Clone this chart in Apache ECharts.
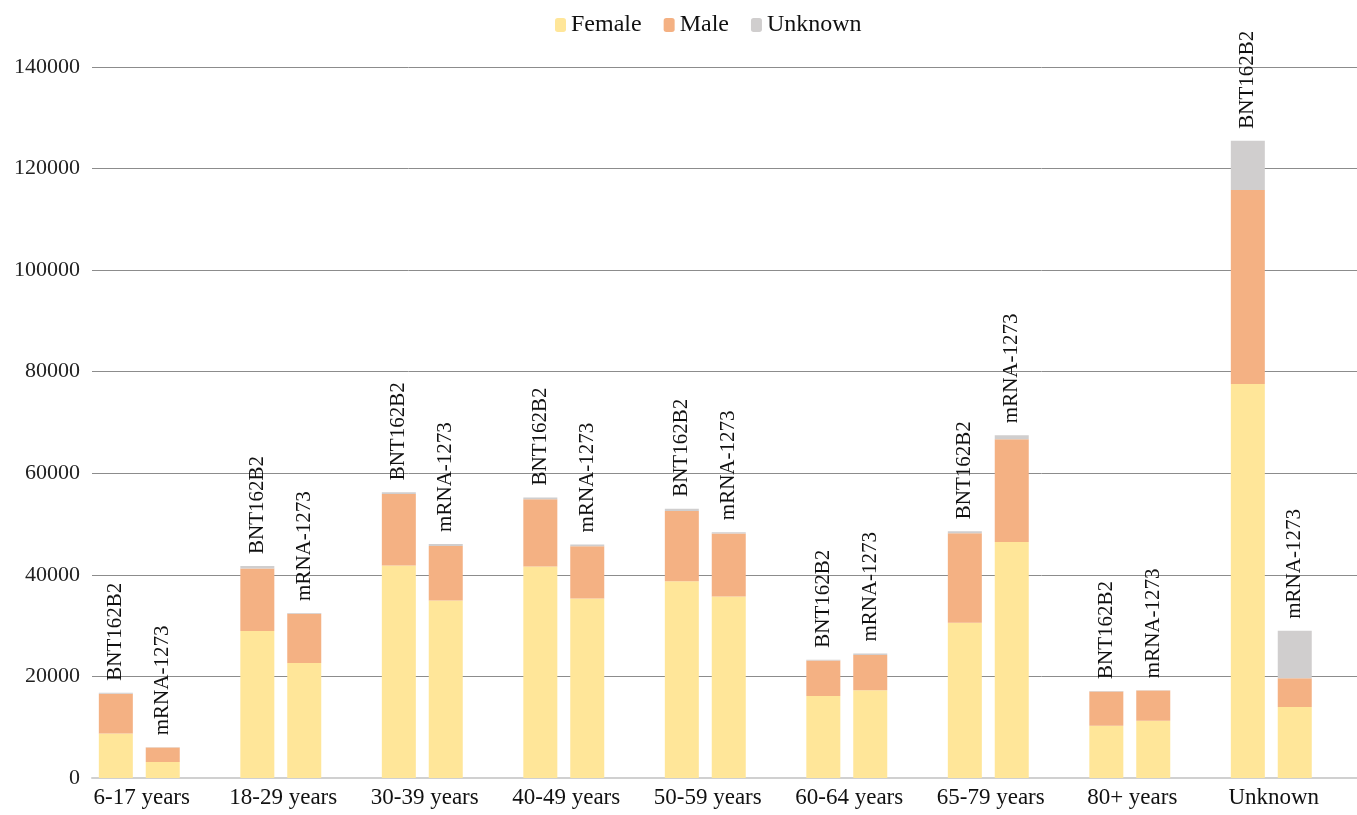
<!DOCTYPE html>
<html>
<head>
<meta charset="utf-8">
<script src="https://cdn.jsdelivr.net/npm/echarts@6/dist/echarts.min.js"></script>
<style>
  html, body { margin: 0; padding: 0; background: #fff; }
  #chart { width: 1357px; height: 815px; }
</style>
</head>
<body>
<div id="chart"></div>
<script>
// age groups
const categories = ['6-17 years', '18-29 years', '30-39 years', '40-49 years', '50-59 years',
  '60-64 years', '65-79 years', '80+ years', 'Unknown'];

// BNT162B2 stack
const bntFemale = [8750, 28950, 41850, 41650, 38750, 16150, 30550, 10300, 77600];
const bntMale = [7850, 12300, 14050, 13250, 13800, 7000, 17650, 6750, 38200];
const bntUnknown = [200, 500, 350, 350, 450, 150, 400, 100, 9700];

// mRNA-1273 stack
const mrnaFemale = [3150, 22650, 34950, 35350, 35750, 17300, 46450, 11250, 14000];
const mrnaMale = [2850, 9700, 10750, 10300, 12400, 6900, 20250, 6000, 5650];
const mrnaUnknown = [50, 150, 400, 350, 250, 300, 800, 50, 9350];

const yTicks = [0, 20000, 40000, 60000, 80000, 100000, 120000, 140000];

const colors = { Female: '#FFE699', Male: '#F4B183', Unknown: '#D0CECE' };
const font = 'Liberation Serif';

function seg(name, stack, data, labelText) {
  const s = {
    name: name,
    type: 'bar',
    stack: stack,
    barWidth: 34,
    barGap: '38%',
    data: data,
    itemStyle: { color: colors[name] },
    emphasis: { disabled: true }
  };
  if (labelText) {
    s.label = {
      show: true,
      position: 'top',
      rotate: 90,
      align: 'left',
      verticalAlign: 'middle',
      distance: 12,
      formatter: labelText,
      fontFamily: font,
      fontSize: 21,
      color: '#111'
    };
  }
  return s;
}

const chart = echarts.init(document.getElementById('chart'));
chart.setOption({
  animation: false,
  textStyle: { fontFamily: font },
  legend: {
    data: ['Female', 'Male', 'Unknown'],
    top: 8,
    left: 550,
    itemWidth: 11,
    itemHeight: 14,
    itemGap: 22,
    textStyle: { fontFamily: font, fontSize: 24, color: '#111' }
  },
  // plot runs a little past the right edge of the picture, as in the source
  grid: { left: 92, top: 67, width: 1273.5, bottom: 37, containLabel: false, outerBoundsMode: 'none' },
  xAxis: {
    type: 'category',
    data: categories,
    axisTick: { show: false },
    axisLine: { lineStyle: { color: '#D0D0D0', width: 2 } },
    axisLabel: {
      fontFamily: font,
      fontSize: 23,
      color: '#111',
      margin: 8,
      padding: [0, 42, 0, 0],
      interval: 0
    }
  },
  yAxis: {
    type: 'value',
    min: yTicks[0],
    max: yTicks[yTicks.length - 1],
    interval: 20000,
    axisLine: { show: false },
    axisTick: { show: false },
    axisLabel: {
      fontFamily: font, fontSize: 22, color: '#222', margin: 12,
      formatter: v => String(v)
    },
    splitLine: { lineStyle: { color: '#8C8C8C', width: 1 } }
  },
  series: [
    seg('Female', 'bnt', bntFemale),
    seg('Male', 'bnt', bntMale),
    seg('Unknown', 'bnt', bntUnknown, 'BNT162B2'),
    seg('Female', 'mrna', mrnaFemale),
    seg('Male', 'mrna', mrnaMale),
    seg('Unknown', 'mrna', mrnaUnknown, 'mRNA-1273'),
    // empty third slot, as in the source chart
    { name: 'pad', type: 'bar', stack: 'pad', barWidth: 34, data: categories.map(() => '-') }
  ]
});
</script>
</body>
</html>
